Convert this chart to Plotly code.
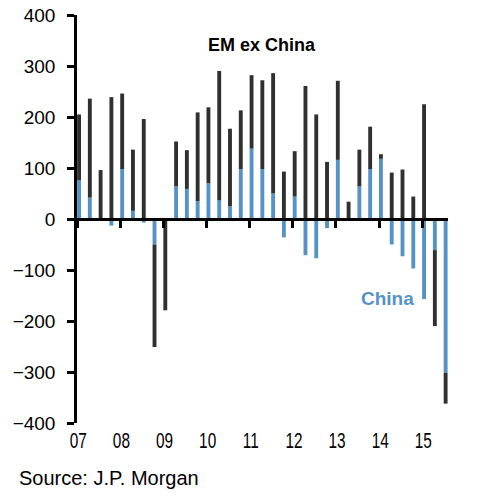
import plotly.graph_objects as go

# Quarterly data, 2007Q1 .. 2015Q3
quarters = [f"{y:02d}Q{q}" for y in range(7, 16) for q in range(1, 5)][:35]
china = [76, 42, 0, -13, 98, 16, -7, -50, 0, 64, 59, 35, 70, 37, 25, 98, 138, 98,
         50, -36, 44, -71, -77, -18, 116, 0, 64, 98, 118, -50, -73, -97, -157, -61, -302]
em_ex_china = [129, 194, 96, 239, 148, 120, 196, -201, -179, 88, 76, 174, 149, 253, 152,
               115, 144, 174, 236, 93, 89, 261, 205, 112, 155, 34, 72, 83, 9, 91, 97, 44,
               225, -149, -60]
year_labels = ["07", "08", "09", "10", "11", "12", "13", "14", "15"]
y_ticks = [-400, -300, -200, -100, 0, 100, 200, 300, 400]

idx = list(range(len(quarters)))
year_pos = [4 * k for k in range(len(year_labels))]

BLUE = "#5592c6"
DARK = "#303030"
FONT = "Liberation Sans, Arial, sans-serif"

fig = go.Figure()
fig.add_trace(go.Bar(x=idx, y=china, name="China", marker_color=BLUE,
                     marker_line_width=0, width=0.36))
fig.add_trace(go.Bar(x=idx, y=em_ex_china, name="EM ex China", marker_color=DARK,
                     marker_line_width=0, width=0.36))

xr = [-0.19, 34.22]
fig.update_layout(
    barmode="relative",
    width=485, height=499,
    margin=dict(l=77, r=37, t=15, b=76, autoexpand=False),
    plot_bgcolor="white", paper_bgcolor="white",
    showlegend=False,
    xaxis=dict(range=xr, anchor="free", position=0.5, showline=True, linecolor="black",
               linewidth=2.5, ticks="outside", ticklen=7, tickwidth=2.5, tickcolor="black",
               tickvals=[p - 0.18 for p in year_pos], showticklabels=False,
               showgrid=False, zeroline=False, automargin=False),
    xaxis2=dict(range=xr, overlaying="x", anchor="y", side="bottom", showline=False,
                ticks="", tickvals=[p - 0.07 for p in year_pos], ticktext=year_labels,
                tickfont=dict(family=FONT, size=22, color="black"),
                showgrid=False, zeroline=False, ticklabelstandoff=2, automargin=False),
    yaxis=dict(range=[-400, 400], tickvals=y_ticks, showline=True, linecolor="black",
               linewidth=2.5, ticks="outside", ticklen=7, tickwidth=2.5, tickcolor="black",
               tickfont=dict(family=FONT, size=19, color="black"),
               showgrid=False, zeroline=False, ticklabelstandoff=8, automargin=False),
)
# dummy trace to activate xaxis2
fig.add_trace(go.Scatter(x=[None], y=[None], xaxis="x2", yaxis="y", showlegend=False,
                         hoverinfo="skip"))

fig.add_annotation(x=16.94, y=342, xref="x", yref="y", text="<b>EM ex China</b>",
                   showarrow=False, font=dict(family=FONT, size=18, color="black"))
fig.add_annotation(x=28.64, y=-156, xref="x", yref="y", text="<b>China</b>",
                   showarrow=False, font=dict(family=FONT, size=19, color=BLUE))
fig.add_annotation(x=-0.161, y=-0.1336, xref="paper", yref="paper", xanchor="left",
                   yanchor="middle", text="Source: J.P. Morgan", showarrow=False,
                   font=dict(family=FONT, size=20, color="black"))

post = """
document.body.style.margin='0';
document.body.style.overflow='hidden';
document.querySelectorAll('g.x2tick').forEach(function(g){
  g.style.transformBox='fill-box';
  g.style.transformOrigin='center';
  g.style.transform='scale(0.7,1)';
});
"""
fig.write_html("out.html", post_script=post, config={"displayModeBar": False})
